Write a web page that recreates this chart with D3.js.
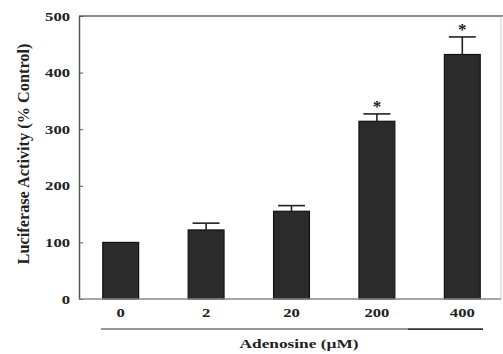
<!DOCTYPE html>
<html><head><meta charset="utf-8">
<script src="https://cdn.jsdelivr.net/npm/d3@7"></script>
<style>body{margin:0;background:#fff}svg{display:block}text{font-family:"Liberation Serif","Times New Roman",serif;font-weight:bold;fill:#222}</style>
</head><body><div id="chart"></div>
<script>
const categories = ["0", "2", "20", "200", "400"];
const values = [100, 122, 155, 314, 432];
const errors = [0, 12, 10, 13, 31];
const significant = [false, false, false, true, true];
const yTicks = [0, 100, 200, 300, 400, 500];
const yTitle = "Luciferase Activity (% Control)";
const xTitle = "Adenosine (\u00b5M)";

(function () {
const W = 503, H = 354;
const svg = d3.select("#chart").append("svg").attr("width", W).attr("height", H);
const pLeft = 79, pRight = 501, pTop = 16, pBottom = 299;
const stretch = 1.28;

const x = d3.scaleBand().domain(categories).range([78, 505]).paddingInner(0.58).paddingOuter(0.29);
const y = d3.scaleLinear().domain([0, 500]).range([pBottom, pTop]);

// frame
svg.append("line").attr("x1", pLeft).attr("x2", W).attr("y1", pTop).attr("y2", pTop).attr("stroke", "#666").attr("stroke-width", 1.5);
svg.append("line").attr("x1", pRight).attr("x2", pRight).attr("y1", pTop).attr("y2", pBottom).attr("stroke", "#ccc").attr("stroke-width", 1);

// bars
const g = svg.append("g");
g.selectAll("rect").data(values).join("rect")
  .attr("x", (d, i) => x(categories[i]))
  .attr("width", x.bandwidth())
  .attr("y", d => y(d))
  .attr("height", d => y(0) - y(d))
  .attr("fill", "#2b2b2b").attr("stroke", "#111").attr("stroke-width", 1.2);

// error bars
values.forEach((v, i) => {
  if (!errors[i]) return;
  const cx = x(categories[i]) + x.bandwidth() / 2;
  const capW = 27;
  g.append("line").attr("x1", cx).attr("x2", cx).attr("y1", y(v)).attr("y2", y(v + errors[i])).attr("stroke", "#222").attr("stroke-width", 1.6);
  g.append("line").attr("x1", cx - capW / 2).attr("x2", cx + capW / 2).attr("y1", y(v + errors[i])).attr("y2", y(v + errors[i])).attr("stroke", "#222").attr("stroke-width", 1.6);
  if (significant[i]) {
    g.append("text").attr("x", cx).attr("y", y(v + errors[i]) - 2).attr("text-anchor", "middle").attr("font-size", 17).text("*");
  }
});

// y axis
const yAxis = d3.axisLeft(y).tickValues(yTicks).tickSizeInner(-4).tickSizeOuter(0).tickPadding(7);
const ya = svg.append("g").attr("transform", `translate(${pLeft},0)`).call(yAxis);
ya.select(".domain").attr("stroke", "#555").attr("stroke-width", 1.5);
ya.selectAll(".tick line").attr("stroke", "#555");
ya.selectAll("text").attr("font-size", 13).attr("fill", "#222").attr("transform", `scale(${stretch},1)`)
  .style("font-family", '"Liberation Serif",serif').style("font-weight", "bold");

// x baseline
svg.append("line").attr("x1", pLeft).attr("x2", pRight).attr("y1", pBottom).attr("y2", pBottom).attr("stroke", "#888").attr("stroke-width", 1.5);

// x labels
const xAxis = d3.axisBottom(x).tickSize(0).tickPadding(9);
const xa = svg.append("g").attr("transform", `translate(0,${pBottom})`).call(xAxis);
xa.select(".domain").remove();
xa.selectAll("text").attr("font-size", 13).attr("fill", "#222").attr("transform", `scale(${stretch},1)`)
  .style("font-family", '"Liberation Serif",serif').style("font-weight", "bold");

// underline
svg.append("line").attr("x1", 101).attr("x2", 483).attr("y1", 329).attr("y2", 329).attr("stroke", "#333").attr("stroke-width", 1.2);
svg.append("line").attr("x1", 408).attr("x2", 483).attr("y1", 329.3).attr("y2", 329.3).attr("stroke", "#333").attr("stroke-width", 1.5);

svg.append("text").attr("transform", `translate(299,348) scale(${stretch},1)`).attr("text-anchor", "middle").attr("font-size", 13.5).text(xTitle);
svg.append("text").attr("transform", `translate(29,154) rotate(-90)`).attr("text-anchor", "middle").attr("font-size", 16.3).text(yTitle);
})();
</script></body></html>
